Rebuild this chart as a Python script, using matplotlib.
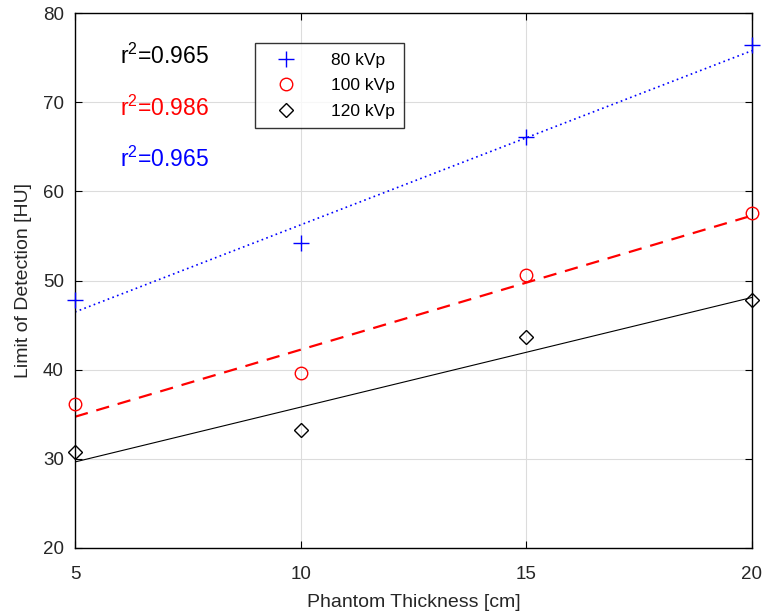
import matplotlib
matplotlib.use("Agg")
import matplotlib.pyplot as plt
import numpy as np

plt.rcParams['font.family'] = ['Liberation Sans', 'DejaVu Sans']
plt.rcParams['mathtext.fontset'] = 'custom'
plt.rcParams['mathtext.rm'] = 'Liberation Sans'
plt.rcParams['mathtext.it'] = 'Liberation Sans'

# phantom thickness [cm]
thickness = [5, 10, 15, 20]

# limit of detection [HU]
lod_80 = [47.8, 54.2, 66.1, 76.4]
lod_100 = [36.2, 39.6, 50.6, 57.6]
lod_120 = [30.8, 33.2, 43.7, 47.8]

labels = ['80 kVp', '100 kVp', '120 kVp']
r2_text = ['0.965', '0.986', '0.965']

gray = '#262626'

fig = plt.figure(figsize=(7.64, 6.16), dpi=100)
ax = fig.add_axes([75 / 764, 1 - 548 / 616, 677 / 764, 535 / 616])

x = np.array(thickness)
xf = np.array([5, 20])

# linear fits
for y, col, ls, lw in [(lod_80, 'blue', (0, (1, 2)), 1.2),
                       (lod_100, 'red', (0, (6, 4)), 1.6),
                       (lod_120, 'black', '-', 0.8)]:
    p = np.polyfit(x, y, 1)
    ax.plot(xf, np.polyval(p, xf), color=col, linestyle=ls, linewidth=lw)

ax.plot(x, lod_80, linestyle='none', marker='+', color='blue', markersize=11,
        markeredgewidth=1.0, label=labels[0], clip_on=False, zorder=5)
ax.plot(x, lod_100, linestyle='none', marker='o', color='red', markersize=9,
        markerfacecolor='none', markeredgewidth=1.0, label=labels[1], clip_on=False, zorder=5)
ax.plot(x, lod_120, linestyle='none', marker='D', color='black', markersize=7.5,
        markerfacecolor='none', markeredgewidth=1.0, label=labels[2], clip_on=False, zorder=5)

ax.text(6.0, 75.1, r'r$^2$=' + r2_text[0], color='black', fontsize=16.5, va='center')
ax.text(6.0, 69.3, r'r$^2$=' + r2_text[1], color='red', fontsize=16.5, va='center')
ax.text(6.0, 63.6, r'r$^2$=' + r2_text[2], color='blue', fontsize=16.5, va='center')

ax.set_xlim(5, 20)
ax.set_ylim(20, 80)
ax.set_xticks([5, 10, 15, 20])
ax.set_yticks(range(20, 81, 10))
ax.grid(True, color='#dcdcdc', linewidth=0.8)
ax.set_axisbelow(True)
ax.tick_params(direction='in', top=True, right=True, labelsize=13.5,
               colors='black', labelcolor=gray, length=5)
ax.tick_params(axis='x', pad=13)
ax.tick_params(axis='y', pad=8)
for s in ax.spines.values():
    s.set_linewidth(1.0)
    s.set_color('black')

ax.set_xlabel('Phantom Thickness [cm]', fontsize=14, color=gray, labelpad=8)
ax.set_ylabel('Limit of Detection [HU]', fontsize=14, color=gray, labelpad=8)

leg = ax.legend(loc='upper left', bbox_to_anchor=(0.266, 0.944), borderaxespad=0,
                fontsize=12.5, frameon=True, fancybox=False, edgecolor='black',
                handlelength=2.5, handletextpad=1.3, labelspacing=0.6,
                borderpad=0.55)
leg.get_frame().set_linewidth(1.0)

fig.savefig('out.png', dpi=100)
